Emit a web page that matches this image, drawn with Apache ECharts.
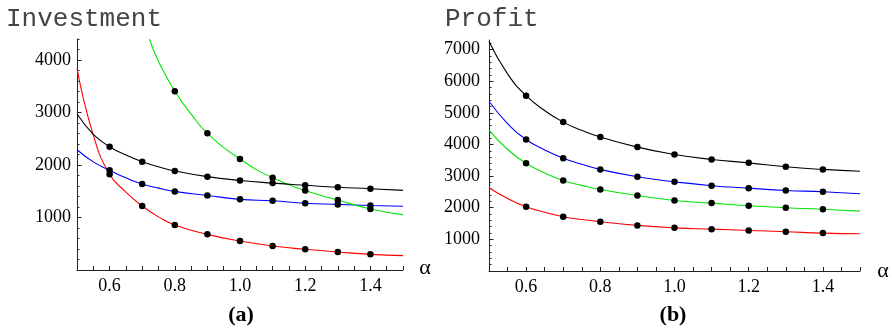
<!DOCTYPE html>
<html><head><meta charset="utf-8">
<script src="https://cdn.jsdelivr.net/npm/echarts@6/dist/echarts.min.js"></script>
<style>html,body{margin:0;padding:0;background:#fff}#c{width:892px;height:330px}</style>
</head><body><div id="c"></div>
<script>
// ---- data ----
const alphaCurve = [0.5, 0.55, 0.6, 0.65, 0.7, 0.75, 0.8, 0.9, 1.0, 1.1, 1.2, 1.3, 1.4, 1.5];
const dotAlpha = [0.6, 0.7, 0.8, 0.9, 1.0, 1.1, 1.2, 1.3, 1.4];

// (a) Investment
const invRed   = [3841, 2570, 1825, 1485, 1219, 1012, 857, 679, 552, 457, 394, 343, 298, 273];
const invBlue  = [2290, 2060, 1900, 1755, 1638, 1560, 1497, 1420, 1346, 1318, 1272, 1250, 1228, 1213];
const invBlack = [2975, 2585, 2349, 2190, 2063, 1967, 1886, 1778, 1706, 1655, 1613, 1575, 1549, 1517];
const invGreenAlpha = [0.722, 0.75, 0.8, 0.85, 0.9, 1.0, 1.1, 1.2, 1.3, 1.4, 1.5];
const invGreen = [4400, 3970, 3405, 2970, 2603, 2114, 1755, 1515, 1333, 1162, 1054];

// (b) Profit
const profBlack = [7250, 6230, 5540, 5070, 4705, 4445, 4232, 3915, 3683, 3525, 3418, 3294, 3210, 3152];
const profBlue  = [5365, 4660, 4155, 3825, 3563, 3373, 3210, 2978, 2820, 2695, 2618, 2546, 2504, 2441];
const profGreen = [4449, 3840, 3405, 3100, 2861, 2705, 2578, 2385, 2230, 2145, 2062, 1998, 1953, 1891];
const profRed   = [2630, 2290, 2030, 1855, 1715, 1627, 1557, 1441, 1364, 1322, 1282, 1241, 1197, 1178];

// tick labels / ticks
const xLabels = [0.6, 0.8, 1.0, 1.2, 1.4];
const invYLabels = [1000, 2000, 3000, 4000];
const profYLabels = [1000, 2000, 3000, 4000, 5000, 6000, 7000];
const invYMinor = [200,400,600,800,1200,1400,1600,1800,2200,2400,2600,2800,3200,3400,3600,3800,4200,4400];
const profYMinor = [200,400,600,800,1200,1400,1600,1800,2200,2400,2600,2800,3200,3400,3600,3800,4200,4400,4600,4800,5200,5400,5600,5800,6200,6400,6600,6800,7200];

// ---- chart ----
const chart = echarts.init(document.getElementById('c'));
const AX = '#222';
const LABEL_FONT = 'Liberation Serif';

function curve(xs, ys) { return xs.map((x, i) => [x, ys[i]]); }
function dots(xs, ys, max) {
  return xs.map((x, i) => [x, ys[i]])
    .filter(p => dotAlpha.some(a => Math.abs(a - p[0]) < 1e-6) && p[1] <= max);
}

function xAxis(gi) {
  return {
    type: 'value', gridIndex: gi, min: 0.5, max: 1.5, interval: 0.05,
    axisLine: { show: true, onZero: false, lineStyle: { color: AX, width: 1 } },
    axisTick: { show: true, inside: true, length: 4, lineStyle: { color: AX } },
    axisLabel: {
      customValues: xLabels, formatter: v => v.toFixed(1),
      fontFamily: LABEL_FONT, fontSize: 18, color: '#000', margin: 7
    },
    splitLine: { show: false }
  };
}
function yMinor(gi, max, minor) {
  return {
    type: 'value', gridIndex: gi, position: 'left', offset: 0, min: 0, max: max,
    axisLine: { show: true, onZero: false, lineStyle: { color: AX, width: 1 } },
    axisTick: { show: true, inside: true, length: 2.5, customValues: minor, lineStyle: { color: AX } },
    axisLabel: { show: false },
    splitLine: { show: false }
  };
}
function yMajor(gi, max, labels, margin) {
  return {
    type: 'value', gridIndex: gi, position: 'left', offset: 0, min: 0, max: max,
    axisLine: { show: false, onZero: false },
    axisTick: { show: true, inside: true, length: 4.5, customValues: labels, lineStyle: { color: AX } },
    axisLabel: {
      customValues: labels, formatter: v => String(v),
      fontFamily: LABEL_FONT, fontSize: 18, color: '#000', margin: margin
    },
    splitLine: { show: false }
  };
}
function line(xi, yi, data, color) {
  return {
    type: 'line', xAxisIndex: xi, yAxisIndex: yi, data: data,
    smooth: 0.5, showSymbol: false, symbol: 'none',
    lineStyle: { color: color, width: 1.1 }, silent: true, animation: false, z: 2
  };
}
function dotSeries(xi, yi, data) {
  return {
    type: 'scatter', xAxisIndex: xi, yAxisIndex: yi, data: data,
    symbol: 'circle', symbolSize: 6.5, itemStyle: { color: '#000', opacity: 1 },
    silent: true, animation: false, z: 3
  };
}

const RED = '#ff0000', BLUE = '#0000ff', GREEN = '#00e600', BLACK = '#000000';
const INV_MAX = 4400, PROF_MAX = 7300;

chart.setOption({
  animation: false,
  backgroundColor: '#fff',
  grid: [
    { left: 77, top: 39, width: 326, height: 231 },
    { left: 489, top: 40, width: 371, height: 231 }
  ],
  xAxis: [xAxis(0), xAxis(1)],
  yAxis: [
    yMinor(0, INV_MAX, invYMinor), yMajor(0, INV_MAX, invYLabels, 6),
    yMinor(1, PROF_MAX, profYMinor), yMajor(1, PROF_MAX, profYLabels, 9)
  ],
  series: [
    line(0, 0, curve(alphaCurve, invRed), RED),
    line(0, 0, curve(alphaCurve, invBlue), BLUE),
    line(0, 0, curve(invGreenAlpha, invGreen), GREEN),
    line(0, 0, curve(alphaCurve, invBlack), BLACK),
    dotSeries(0, 0, dots(alphaCurve, invRed, INV_MAX)),
    dotSeries(0, 0, dots(alphaCurve, invBlue, INV_MAX)),
    dotSeries(0, 0, dots(invGreenAlpha, invGreen, INV_MAX)),
    dotSeries(0, 0, dots(alphaCurve, invBlack, INV_MAX)),
    line(1, 2, curve(alphaCurve, profRed), RED),
    line(1, 2, curve(alphaCurve, profGreen), GREEN),
    line(1, 2, curve(alphaCurve, profBlue), BLUE),
    line(1, 2, curve(alphaCurve, profBlack), BLACK),
    dotSeries(1, 2, dots(alphaCurve, profRed, PROF_MAX)),
    dotSeries(1, 2, dots(alphaCurve, profGreen, PROF_MAX)),
    dotSeries(1, 2, dots(alphaCurve, profBlue, PROF_MAX)),
    dotSeries(1, 2, dots(alphaCurve, profBlack, PROF_MAX))
  ],
  graphic: [
    { type: 'text', left: 6, top: 6, style: { text: 'Investment', font: '26px "Liberation Mono"', fill: '#444' } },
    { type: 'text', left: 445, top: 6, style: { text: 'Profit', font: '26px "Liberation Mono"', fill: '#444' } },
    { type: 'text', x: 425, y: 268, style: { text: 'α', font: '22px "Liberation Serif"', fill: '#000', align: 'center', verticalAlign: 'middle' } },
    { type: 'text', x: 883, y: 271, style: { text: 'α', font: '22px "Liberation Serif"', fill: '#000', align: 'center', verticalAlign: 'middle' } },
    { type: 'text', x: 241, y: 315, style: { text: '(a)', font: 'bold 22px "Liberation Serif"', fill: '#000', align: 'center', verticalAlign: 'middle' } },
    { type: 'text', x: 673, y: 315, style: { text: '(b)', font: 'bold 22px "Liberation Serif"', fill: '#000', align: 'center', verticalAlign: 'middle' } }
  ]
});
</script>
</body></html>
